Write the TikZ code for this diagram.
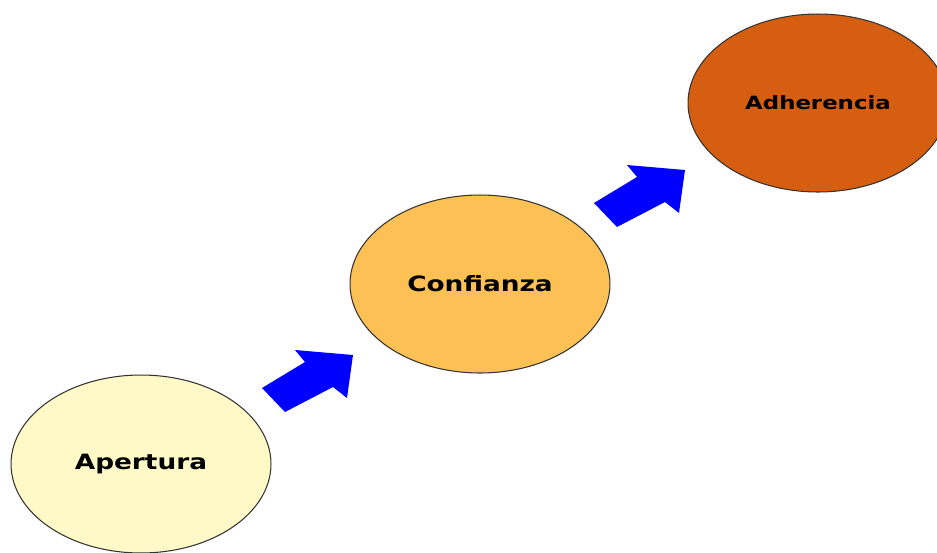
\documentclass[tikz,border=0pt]{standalone}
\usepackage{fontspec}
\setmainfont{DejaVu Sans}
\usepackage{graphicx}
\usetikzlibrary{shapes.geometric, positioning}
\definecolor{aperturafill}{RGB}{255,249,200}
\definecolor{confianzafill}{RGB}{252,192,84}
\definecolor{adherenciafill}{RGB}{214,94,16}
\definecolor{arrowblue}{RGB}{0,0,255}

\begin{document}
\begin{tikzpicture}[x=0.02cm, y=-0.02cm,
  stage/.style={ellipse, draw=black!80, line width=0.6pt, minimum width=5.2cm, minimum height=3.56cm, inner sep=0pt, font=\bfseries},
  blockarrow/.pic={
    \fill[arrowblue] (-45,7) -- (-2,-19) -- (-12,-31) -- (46,-26) -- (40,17) -- (26,6) -- (-22,31) -- cycle;
  },
]
\useasboundingbox (0,0) rectangle (937,552);
\clip (0,0) rectangle (937,552);

% Stages
\node[stage, fill=aperturafill, font=\bfseries\fontsize{12}{14}\selectfont] (apertura) at (141,464) {\scalebox{1.25}[1]{Apertura}};
\node[stage, fill=confianzafill, font=\bfseries\fontsize{12}{14}\selectfont] (confianza) at (480,284) {\scalebox{1.25}[1]{Confianza}};
\node[stage, fill=adherenciafill, font=\bfseries\fontsize{10.4}{12}\selectfont] (adherencia) at (818,103) {\scalebox{1.25}[1]{Adherencia}};

% Block arrows between stages
\pic at (307,381) {blockarrow};
\pic at (639,196) {blockarrow};
\end{tikzpicture}
\end{document}
